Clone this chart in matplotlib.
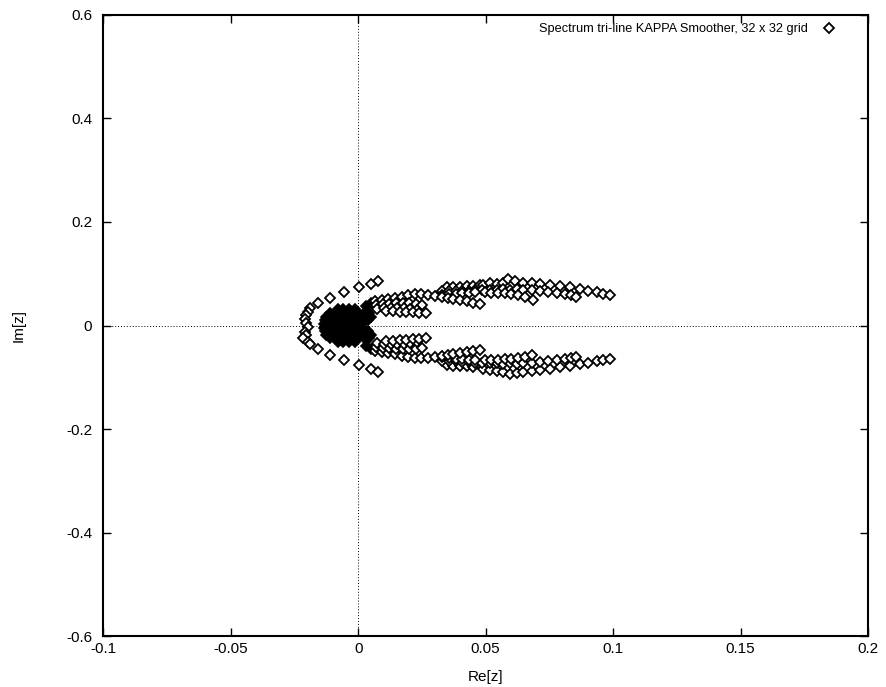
import matplotlib
matplotlib.use("Agg")
import matplotlib.pyplot as plt
import numpy as np

plt.rcParams['font.family'] = ['Liberation Sans', 'DejaVu Sans']

# %% eigenvalues (Re, Im)

# outer parabola-shaped ring
ring_x = [0.0078, 0.0049, 0.0003, -0.0055, -0.0110, -0.0159, -0.0189, -0.0196, -0.0203, -0.0209,
          -0.0203, -0.0196, -0.0209, -0.0203, -0.0216, -0.0196, -0.0189, -0.0159, -0.0110, -0.0055,
          0.0003, 0.0049, 0.0078]
ring_y = [0.086, 0.080, 0.074, 0.064, 0.054, 0.044, 0.033, 0.027, 0.020, 0.012,
          0.004, -0.002, -0.012, -0.018, -0.025, -0.031, -0.036, -0.046, -0.057, -0.067,
          -0.077, -0.085, -0.089]

# dense cluster near the origin
blob_x = [-0.0080, -0.0058, -0.0036, -0.0014,
          -0.0110, -0.0088, -0.0066, -0.0044, -0.0022, 0.0000, 0.0022, 0.0044,
          -0.0125, -0.0103, -0.0081, -0.0059, -0.0037, -0.0015, 0.0007, 0.0029, 0.0051,
          -0.0132, -0.0110, -0.0088, -0.0066, -0.0044, -0.0022, 0.0000, 0.0022, 0.0040,
          -0.0135, -0.0113, -0.0091, -0.0069, -0.0047, -0.0025, -0.0003, 0.0015,
          -0.0135, -0.0113, -0.0091, -0.0069, -0.0047, -0.0025, -0.0003, 0.0015,
          -0.0132, -0.0110, -0.0088, -0.0066, -0.0044, -0.0022, 0.0000, 0.0022, 0.0040,
          -0.0125, -0.0103, -0.0081, -0.0059, -0.0037, -0.0015, 0.0007, 0.0029, 0.0051,
          -0.0110, -0.0088, -0.0066, -0.0044, -0.0022, 0.0000, 0.0022, 0.0044,
          -0.0080, -0.0058, -0.0036, -0.0014,
          0.0050, 0.0050, 0.0030, 0.0030]
blob_y = [0.031, 0.031, 0.031, 0.031,
          0.024, 0.024, 0.024, 0.024, 0.024, 0.024, 0.024, 0.024,
          0.017, 0.017, 0.017, 0.017, 0.017, 0.017, 0.017, 0.017, 0.017,
          0.010, 0.010, 0.010, 0.010, 0.010, 0.010, 0.010, 0.010, 0.010,
          0.003, 0.003, 0.003, 0.003, 0.003, 0.003, 0.003, 0.003,
          -0.004, -0.004, -0.004, -0.004, -0.004, -0.004, -0.004, -0.004,
          -0.011, -0.011, -0.011, -0.011, -0.011, -0.011, -0.011, -0.011, -0.011,
          -0.018, -0.018, -0.018, -0.018, -0.018, -0.018, -0.018, -0.018, -0.018,
          -0.025, -0.025, -0.025, -0.025, -0.025, -0.025, -0.025, -0.025,
          -0.032, -0.032, -0.032, -0.032,
          0.044, -0.046, 0.038, -0.040]

# upper branches
top_x = [0.0347, 0.0373, 0.0399, 0.0425, 0.0451, 0.0477, 0.0490, 0.0516, 0.0543, 0.0569, 0.0588,
         0.0614, 0.0647, 0.0680, 0.0712, 0.0752, 0.0791, 0.0830, 0.0869, 0.0902, 0.0935, 0.0961, 0.0987]
top_y = [0.074, 0.075, 0.075, 0.076, 0.077, 0.078, 0.079, 0.082, 0.080, 0.082, 0.089,
         0.086, 0.083, 0.082, 0.081, 0.079, 0.076, 0.074, 0.070, 0.067, 0.064, 0.061, 0.059]
sec_x = [0.0330, 0.0356, 0.0382, 0.0408, 0.0434, 0.0460, 0.0486, 0.0516, 0.0543, 0.0569,
         0.0595, 0.0621, 0.0647, 0.0680, 0.0712, 0.0745, 0.0778, 0.0810, 0.0835, 0.0856]
sec_y = [0.066, 0.066, 0.066, 0.067, 0.067, 0.068, 0.069, 0.069, 0.068, 0.070,
         0.069, 0.070, 0.069, 0.068, 0.066, 0.065, 0.063, 0.061, 0.059, 0.056]
third_x = [0.0330, 0.0356, 0.0382, 0.0408, 0.0434, 0.0460, 0.0496, 0.0522, 0.0549, 0.0575,
           0.0601, 0.0627, 0.0653, 0.0686]
third_y = [0.058, 0.060, 0.061, 0.062, 0.063, 0.064, 0.064, 0.063, 0.063, 0.062,
           0.060, 0.058, 0.055, 0.049]
fourth_x = [0.0065, 0.0092, 0.0118, 0.0144, 0.0170, 0.0196, 0.0222, 0.0248, 0.0275, 0.0301,
            0.0327, 0.0353, 0.0373, 0.0399, 0.0425, 0.0451, 0.0477]
fourth_y = [0.047, 0.050, 0.052, 0.054, 0.056, 0.058, 0.060, 0.060, 0.059, 0.057,
            0.056, 0.054, 0.052, 0.050, 0.047, 0.044, 0.041]
rowb_x = [0.0070, 0.0096, 0.0122, 0.0148, 0.0174, 0.0200, 0.0226, 0.0252]
rowb_y = [0.040, 0.041, 0.042, 0.043, 0.043, 0.043, 0.042, 0.040]
rowc_x = [0.0075, 0.0101, 0.0127, 0.0153, 0.0179, 0.0205, 0.0231]
rowc_y = [0.032, 0.033, 0.034, 0.034, 0.033, 0.032, 0.030]
rowd_x = [0.0110, 0.0136, 0.0162, 0.0188, 0.0214, 0.0240, 0.0266]
rowd_y = [0.028, 0.028, 0.027, 0.027, 0.026, 0.025, 0.024]

# lower branches
ltop_x = [0.0347, 0.0373, 0.0399, 0.0425, 0.0451, 0.0490, 0.0516, 0.0543, 0.0569, 0.0595, 0.0621,
          0.0647, 0.0680, 0.0712, 0.0752, 0.0791, 0.0830, 0.0869, 0.0902, 0.0935, 0.0961, 0.0987]
ltop_y = [-0.076, -0.078, -0.078, -0.079, -0.081, -0.084, -0.086, -0.087, -0.089, -0.094, -0.091,
          -0.089, -0.088, -0.086, -0.084, -0.081, -0.078, -0.075, -0.072, -0.069, -0.066, -0.064]
lsec_x = [0.0330, 0.0356, 0.0382, 0.0408, 0.0434, 0.0460, 0.0486, 0.0516, 0.0543, 0.0569,
          0.0595, 0.0621, 0.0647, 0.0680, 0.0712, 0.0745, 0.0778, 0.0810, 0.0835, 0.0856]
lsec_y = [-0.068, -0.069, -0.069, -0.070, -0.071, -0.072, -0.073, -0.073, -0.072, -0.074,
          -0.073, -0.074, -0.073, -0.072, -0.070, -0.069, -0.067, -0.065, -0.063, -0.061]
lthird_x = [0.0330, 0.0356, 0.0382, 0.0408, 0.0434, 0.0460, 0.0496, 0.0522, 0.0549, 0.0575,
            0.0601, 0.0627, 0.0653, 0.0680]
lthird_y = [-0.061, -0.063, -0.064, -0.065, -0.066, -0.067, -0.067, -0.067, -0.066, -0.065,
            -0.064, -0.062, -0.060, -0.057]
lfourth_x = [0.0065, 0.0092, 0.0118, 0.0144, 0.0170, 0.0196, 0.0222, 0.0248, 0.0275, 0.0301,
             0.0327, 0.0353, 0.0373, 0.0399, 0.0425, 0.0451, 0.0477]
lfourth_y = [-0.049, -0.052, -0.054, -0.056, -0.058, -0.060, -0.062, -0.063, -0.062, -0.061,
             -0.059, -0.057, -0.055, -0.053, -0.051, -0.049, -0.047]
lrowb_x = [0.0070, 0.0096, 0.0122, 0.0148, 0.0174, 0.0200, 0.0226, 0.0252]
lrowb_y = [-0.042, -0.043, -0.044, -0.045, -0.046, -0.046, -0.045, -0.043]
lrowc_x = [0.0075, 0.0101, 0.0127, 0.0153, 0.0179, 0.0205, 0.0231]
lrowc_y = [-0.034, -0.035, -0.036, -0.036, -0.035, -0.034, -0.032]
lrowd_x = [0.0110, 0.0136, 0.0162, 0.0188, 0.0214, 0.0240, 0.0266]
lrowd_y = [-0.029, -0.029, -0.028, -0.028, -0.027, -0.026, -0.025]

all_x = np.concatenate([ring_x, top_x, sec_x, third_x, fourth_x, rowb_x, rowc_x, rowd_x,
                        ltop_x, lsec_x, lthird_x, lfourth_x, lrowb_x, lrowc_x, lrowd_x])
all_y = np.concatenate([ring_y, top_y, sec_y, third_y, fourth_y, rowb_y, rowc_y, rowd_y,
                        ltop_y, lsec_y, lthird_y, lfourth_y, lrowb_y, lrowc_y, lrowd_y])

xticks = [-0.1, -0.05, 0, 0.05, 0.1, 0.15, 0.2]
xtick_labels = ["-0.1", "-0.05", "0", "0.05", "0.1", "0.15", "0.2"]
yticks = [-0.6, -0.4, -0.2, 0, 0.2, 0.4, 0.6]
ytick_labels = ["-0.6", "-0.4", "-0.2", "0", "0.2", "0.4", "0.6"]

# %%
fig = plt.figure(figsize=(8.86, 6.87), dpi=100)
ax = fig.add_axes([0.1166, 0.0742, 0.8631, 0.9040])

ax.axhline(0, color='black', lw=0.7, ls=(0, (1, 2)), zorder=1)
ax.axvline(0, color='black', lw=0.7, ls=(0, (1, 2)), zorder=1)

# overlapping diamonds in the cluster read as solid black
ax.plot(blob_x, blob_y, ls='none', marker='D', ms=4.8, mfc='black', mec='black', mew=1.2, zorder=3)
ax.plot(all_x, all_y, ls='none', marker='D', ms=4.6, mfc='white', mec='black', mew=1.3,
        label='Spectrum tri-line KAPPA Smoother, 32 x 32 grid', zorder=3)

ax.set_xlim(-0.1, 0.2)
ax.set_ylim(-0.6, 0.6)
ax.set_xticks(xticks)
ax.set_xticklabels(xtick_labels)
ax.set_yticks(yticks)
ax.set_yticklabels(ytick_labels)
ax.tick_params(direction='in', length=6, width=1, top=True, right=True, labelsize=11)
ax.tick_params(axis='x', pad=4)
ax.tick_params(axis='y', pad=8)
for s in ax.spines.values():
    s.set_linewidth(1.5)

ax.set_xlabel('Re[z]', fontsize=11, labelpad=1)
ax.set_ylabel('Im[z]', fontsize=11, labelpad=29)
ax.xaxis.set_label_coords(0.5, -0.055)

ax.legend(loc='upper right', bbox_to_anchor=(0.972, 1.001), frameon=False, markerfirst=False,
          prop={'size': 9.2}, handlelength=1.4, handletextpad=0.9, borderaxespad=0.3)

fig.savefig('out.png', dpi=100)
